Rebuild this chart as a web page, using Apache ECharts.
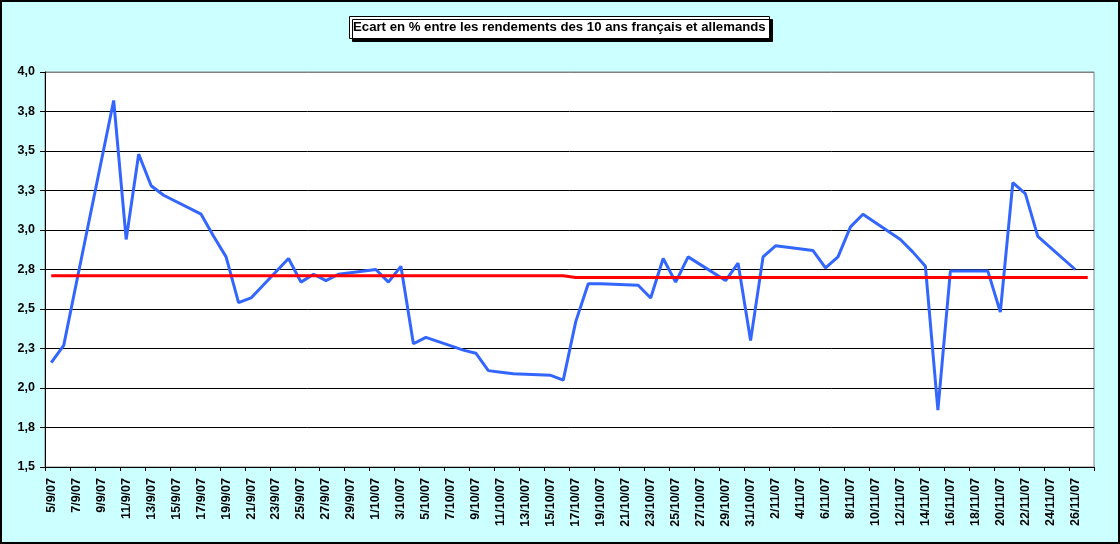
<!DOCTYPE html>
<html>
<head>
<meta charset="utf-8">
<script src="https://cdn.jsdelivr.net/npm/echarts@6/dist/echarts.min.js"></script>
<style>
html,body{margin:0;padding:0;background:#CCFFFF;}
#wrap{position:relative;width:1120px;height:544px;}
#chart{position:absolute;left:0;top:0;width:1120px;height:544px;}
#frame{position:absolute;left:0;top:0;width:1116px;height:540px;border:2px solid #000;pointer-events:none;}
</style>
</head>
<body>
<div id="wrap"><div id="chart"></div><div id="frame"></div></div>
<script>
// Calendar days on the date axis (5/9/07 .. 27/11/07)
const days = [
 '5/9/07','6/9/07','7/9/07','8/9/07','9/9/07','10/9/07','11/9/07','12/9/07','13/9/07','14/9/07',
 '15/9/07','16/9/07','17/9/07','18/9/07','19/9/07','20/9/07','21/9/07','22/9/07','23/9/07','24/9/07',
 '25/9/07','26/9/07','27/9/07','28/9/07','29/9/07','30/9/07','1/10/07','2/10/07','3/10/07','4/10/07',
 '5/10/07','6/10/07','7/10/07','8/10/07','9/10/07','10/10/07','11/10/07','12/10/07','13/10/07','14/10/07',
 '15/10/07','16/10/07','17/10/07','18/10/07','19/10/07','20/10/07','21/10/07','22/10/07','23/10/07','24/10/07',
 '25/10/07','26/10/07','27/10/07','28/10/07','29/10/07','30/10/07','31/10/07','1/11/07','2/11/07','3/11/07',
 '4/11/07','5/11/07','6/11/07','7/11/07','8/11/07','9/11/07','10/11/07','11/11/07','12/11/07','13/11/07',
 '14/11/07','15/11/07','16/11/07','17/11/07','18/11/07','19/11/07','20/11/07','21/11/07','22/11/07','23/11/07',
 '24/11/07','25/11/07','26/11/07','27/11/07'
];
// Spread (%) — null on non-trading days
const spread = [
 2.16,2.27,2.66,null,null,3.82,2.94,3.48,3.28,3.22,
 null,null,3.10,2.96,2.83,2.54,2.57,null,null,2.82,
 2.67,2.72,2.68,2.72,null,null,2.75,2.67,2.77,2.28,
 2.32,null,null,2.24,2.22,2.11,2.10,2.09,null,null,
 2.08,2.05,2.42,2.66,2.66,null,null,2.65,2.57,2.82,
 2.67,2.83,null,null,2.68,2.79,2.30,2.83,2.90,null,
 null,2.87,2.76,2.83,3.02,3.10,null,null,2.94,2.86,
 2.77,1.86,2.74,null,null,2.74,2.48,3.30,3.23,2.96,
 null,null,2.75,null
];
// Average level (red line)
const average = [
 2.71,2.71,2.71,2.71,2.71,2.71,2.71,2.71,2.71,2.71,
 2.71,2.71,2.71,2.71,2.71,2.71,2.71,2.71,2.71,2.71,
 2.71,2.71,2.71,2.71,2.71,2.71,2.71,2.71,2.71,2.71,
 2.71,2.71,2.71,2.71,2.71,2.71,2.71,2.71,2.71,2.71,
 2.71,2.71,2.70,2.70,2.70,2.70,2.70,2.70,2.70,2.70,
 2.70,2.70,2.70,2.70,2.70,2.70,2.70,2.70,2.70,2.70,
 2.70,2.70,2.70,2.70,2.70,2.70,2.70,2.70,2.70,2.70,
 2.70,2.70,2.70,2.70,2.70,2.70,2.70,2.70,2.70,2.70,
 2.70,2.70,2.70,2.70
];
const titleText = 'Ecart en % entre les rendements des 10 ans français et allemands';

const chart = echarts.init(document.getElementById('chart'), null, {renderer:'canvas'});
const gridColors = ['#000','#000','#000','#000','#000','#000','#000','#000','#000','#000','#808080'];
chart.setOption({
  backgroundColor:'#CCFFFF',
  animation:false,
  title:{
    text:titleText,
    left:349, top:16,
    padding:[5,4,5,4],
    backgroundColor:'#fff',
    borderColor:'#000', borderWidth:1,
    shadowColor:'#000', shadowBlur:0, shadowOffsetX:3, shadowOffsetY:3,
    textStyle:{fontFamily:'Liberation Sans, Arial', fontWeight:'bold', fontSize:13.2, color:'#000'}
  },
  grid:{left:45, top:72, right:26, bottom:77, show:true, backgroundColor:'#fff', borderColor:'#808080', borderWidth:1},
  xAxis:{
    type:'category', data:days, boundaryGap:true,
    axisLine:{lineStyle:{color:'#000', width:1}},
    axisTick:{show:true, interval:1, length:4, lineStyle:{color:'#000'}},
    axisLabel:{interval:1, rotate:90, margin:11, color:'#000', fontFamily:'Liberation Sans, Arial', fontWeight:'bold', fontSize:12.5},
    splitLine:{show:false}
  },
  yAxis:{
    type:'value', min:1.5, max:4.0, interval:0.25,
    axisLine:{show:true, lineStyle:{color:'#000', width:1}},
    axisTick:{show:true, length:5, lineStyle:{color:'#000'}},
    axisLabel:{margin:10, color:'#000', fontFamily:'Liberation Sans, Arial', fontWeight:'bold', fontSize:12.5,
      formatter:v=>v.toFixed(1).replace('.',',')},
    splitLine:{show:true, lineStyle:{color:gridColors, width:1}}
  },
  series:[
    {type:'line', data:spread, connectNulls:true, symbol:'none', lineStyle:{color:'#3366FF', width:3}, z:3},
    {type:'line', data:average, symbol:'none', lineStyle:{color:'#FF0000', width:3}, z:4}
  ]
});
</script>
</body>
</html>
